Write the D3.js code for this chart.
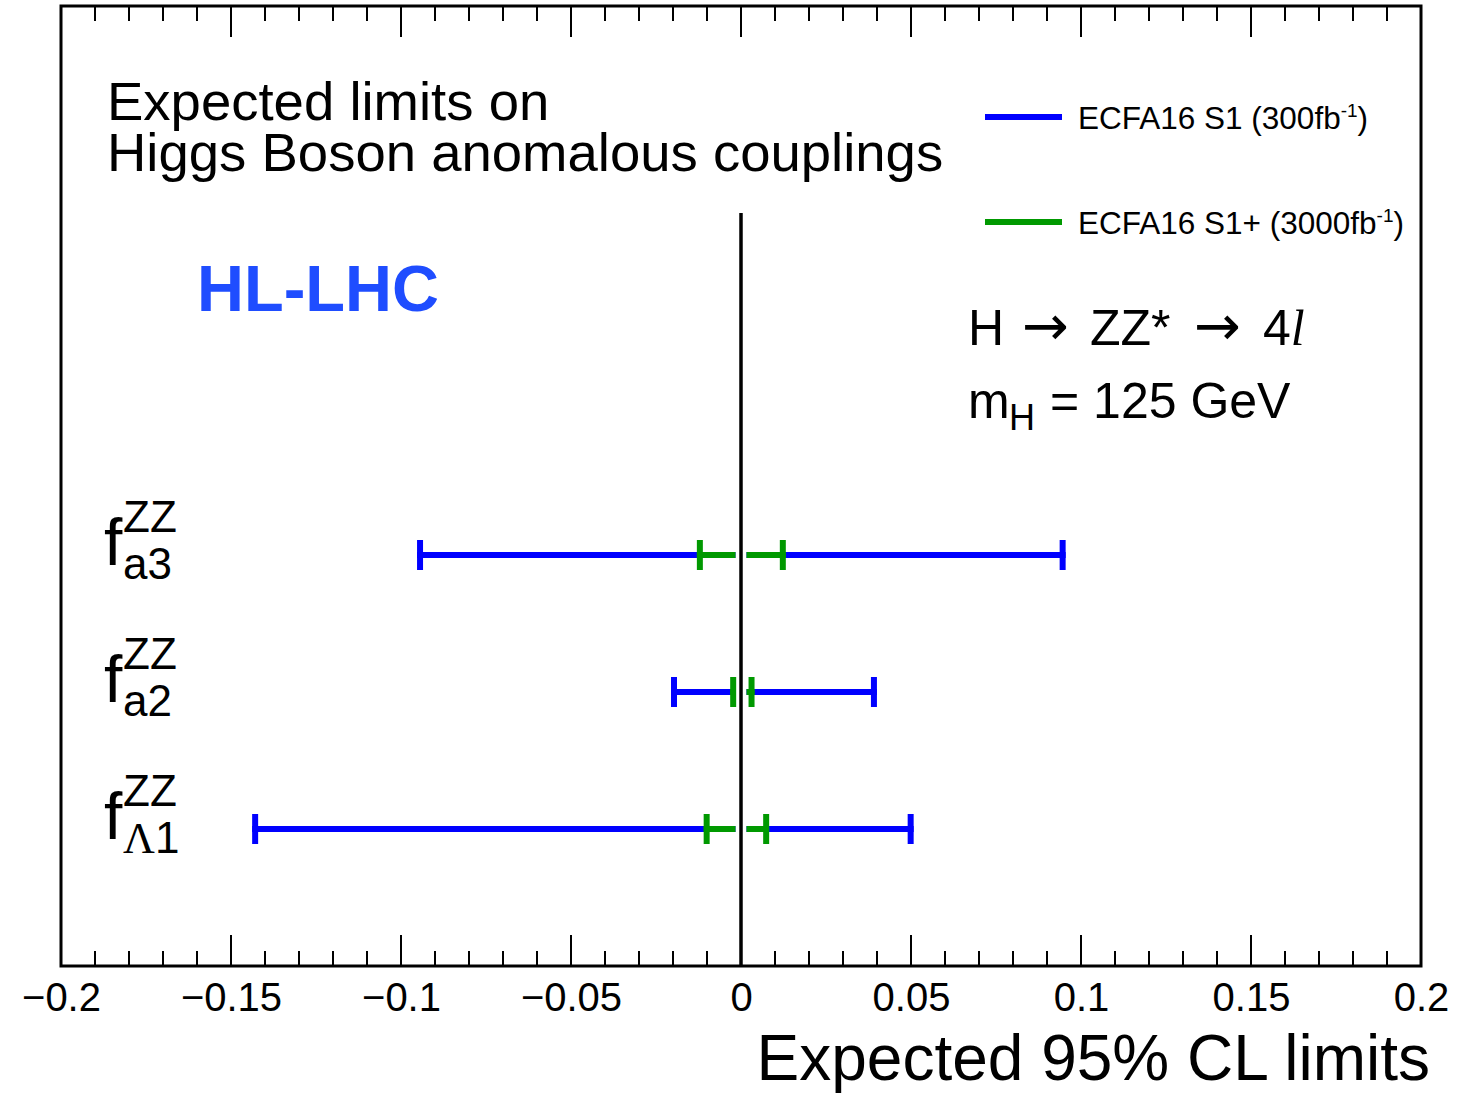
<!DOCTYPE html>
<html><head><meta charset="utf-8">
<script src="https://cdn.jsdelivr.net/npm/d3@7"></script>
<style>
html,body{margin:0;padding:0;background:#fff;}
svg{display:block;}
text{font-family:"Liberation Sans",Arial,Helvetica,sans-serif;fill:#000;}
</style></head>
<body>
<script>
// ---- data ----
const categories = ["a3", "a2", "Λ1"];
const s1Low  = [-0.0944, -0.0197, -0.1429];
const s1High = [ 0.0946,  0.0391,  0.0499];
const s1pLow  = [-0.0121, -0.0023, -0.0101];
const s1pHigh = [ 0.0123,  0.0031,  0.0074];
const seriesNames = ["ECFA16 S1 (300fb", "ECFA16 S1+ (3000fb"];
const seriesColors = ["#0000ff", "#009900"];
const majorTicks = [-0.2, -0.15, -0.1, -0.05, 0, 0.05, 0.1, 0.15, 0.2];
const minorTicks = d3.range(-20, 21).map(i => i / 100);
const titleLines = ["Expected limits on", "Higgs Boson anomalous couplings"];

const W = 1482, H = 1096;
const svg = d3.select("body").append("svg").attr("width", W).attr("height", H);

const L = 61, R = 1421, T = 6, B = 966;
const x = d3.scaleLinear().domain([-0.2, 0.2]).range([L, R]);
const y = d3.scalePoint().domain(categories).range([555, 829]);

// ticks bottom & top
const fmt = d3.format("");
const gTicks = svg.append("g").attr("stroke", "#000").attr("stroke-width", 2);
minorTicks.forEach(v => {
  const isMajor = majorTicks.some(m => Math.abs(m - v) < 1e-9);
  const len = isMajor ? 31 : 15;
  gTicks.append("line").attr("x1", x(v)).attr("x2", x(v)).attr("y1", B).attr("y2", B - len);
  gTicks.append("line").attr("x1", x(v)).attr("x2", x(v)).attr("y1", T).attr("y2", T + len);
});

// tick labels via axis
const ax = svg.append("g").attr("transform", `translate(0,${B})`)
  .call(d3.axisBottom(x).tickValues(majorTicks).tickSize(0).tickPadding(0).tickFormat(fmt));
ax.select(".domain").remove();
ax.selectAll("text").attr("dy", null).attr("y", 45)
  .style("font-family", '"Liberation Sans",Arial,sans-serif').style("font-size", "40px").attr("fill", "#000");

// frame
svg.append("rect").attr("x", L).attr("y", T).attr("width", R - L).attr("height", B - T)
  .attr("fill", "none").attr("stroke", "#000").attr("stroke-width", 3);

// axis title
svg.append("text").attr("x", 1430).attr("y", 1080).attr("text-anchor", "end")
  .style("font-size", "64px").text("Expected 95% CL limits");

// zero line
svg.append("line").attr("x1", x(0)).attr("x2", x(0)).attr("y1", 213).attr("y2", B)
  .attr("stroke", "#000").attr("stroke-width", 3.5);

// error bars
function drawBars(lows, highs, color) {
  const g = svg.append("g").attr("stroke", color).attr("stroke-width", 6);
  const gap = 5.5, capH = 15;
  categories.forEach((c, i) => {
    const yy = y(c);
    g.append("line").attr("x1", x(lows[i]) - 3).attr("x2", x(0) - gap).attr("y1", yy).attr("y2", yy);
    g.append("line").attr("x1", x(0) + gap).attr("x2", x(highs[i]) + 3).attr("y1", yy).attr("y2", yy);
    g.append("line").attr("x1", x(lows[i])).attr("x2", x(lows[i])).attr("y1", yy - capH).attr("y2", yy + capH);
    g.append("line").attr("x1", x(highs[i])).attr("x2", x(highs[i])).attr("y1", yy - capH).attr("y2", yy + capH);
  });
}
drawBars(s1Low, s1High, seriesColors[0]);
drawBars(s1pLow, s1pHigh, seriesColors[1]);

// category labels
categories.forEach((c, i) => {
  const yy = y(c);
  svg.append("text").attr("x", 104).attr("y", yy + 10).style("font-size", "66px").text("f");
  svg.append("text").attr("x", 123).attr("y", yy - 23).style("font-size", "44px").text("ZZ");
  if (c === "Λ1") {
    const t = svg.append("text").attr("x", 123).attr("y", yy + 24).style("font-size", "44px");
    t.append("tspan").style("font-family", '"Liberation Serif",serif').text("Λ");
    t.append("tspan").text("1");
  } else {
    svg.append("text").attr("x", 123).attr("y", yy + 24).style("font-size", "44px").text(c);
  }
});

// title (single text element, two lines)
const tt = svg.append("text").attr("x", 107).attr("y", 120).style("font-size", "54.5px");
tt.append("tspan").attr("x", 107).text(titleLines[0]);
tt.append("tspan").attr("x", 107).attr("dy", 51).text(titleLines[1]);

// HL-LHC
svg.append("text").attr("x", 197).attr("y", 311).style("font-size", "65px").style("font-weight", "bold")
  .style("fill", "#1f4dff").text("HL-LHC");

// process text
const p = svg.append("text").attr("y", 345).style("font-size", "50px");
p.append("tspan").attr("x", 968).text("H");
p.append("tspan").attr("x", 1022).style("font-family", '"DejaVu Sans",sans-serif').style("font-size", "56px").text("→");
p.append("tspan").attr("x", 1090).style("font-size", "50px").text("ZZ*");
p.append("tspan").attr("x", 1194).style("font-family", '"DejaVu Sans",sans-serif').style("font-size", "56px").text("→");
p.append("tspan").attr("x", 1263).text("4");
p.append("tspan").style("font-family", '"Liberation Serif",serif').style("font-style", "italic").text("l");

const m = svg.append("text").attr("y", 418).style("font-size", "50px");
m.append("tspan").attr("x", 968).text("m");
m.append("tspan").attr("x", 1009).attr("dy", 12).style("font-size", "36px").text("H");
m.append("tspan").attr("x", 1050).attr("dy", -12).text("= 125 GeV");

// legend
const legY = [117, 222];
seriesNames.forEach((n, i) => {
  svg.append("line").attr("x1", 985).attr("x2", 1062).attr("y1", legY[i]).attr("y2", legY[i])
    .attr("stroke", seriesColors[i]).attr("stroke-width", 6);
  const t = svg.append("text").attr("x", 1078).attr("y", legY[i] + 12).style("font-size", "31.5px");
  t.append("tspan").text(n);
  t.append("tspan").attr("dy", -12).style("font-size", "19px").text("-1");
  t.append("tspan").attr("dy", 12).text(")");
});
</script>
</body></html>
